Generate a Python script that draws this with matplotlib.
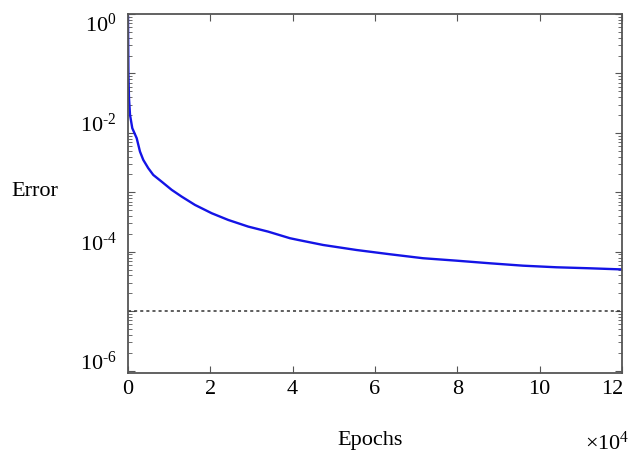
import matplotlib
matplotlib.use("Agg")
import matplotlib.pyplot as plt
import numpy as np
from matplotlib.ticker import LogLocator, FuncFormatter, NullFormatter, FixedLocator
from matplotlib.transforms import ScaledTranslation

plt.rcParams['font.family'] = ['Liberation Serif', 'DejaVu Serif']
plt.rcParams['mathtext.fontset'] = 'custom'
plt.rcParams['mathtext.rm'] = 'Liberation Serif'

# Data (epochs in units of 1e4)
epochs = [0.0, 0.01, 0.024, 0.049, 0.104, 0.211, 0.291, 0.371, 0.492, 0.614, 0.818,
          1.061, 1.303, 1.626, 2.032, 2.434, 2.92, 3.405, 3.932, 4.133, 4.74, 5.551,
          6.359, 7.167, 7.978, 8.786, 9.595, 10.405, 11.214, 11.9, 12.0]
error = [0.9, 0.1, 3.84e-2, 2.01e-2, 1.20e-2, 8.14e-3, 4.85e-3, 3.51e-3, 2.55e-3,
         1.96e-3, 1.51e-3, 1.10e-3, 8.47e-4, 6.14e-4, 4.45e-4, 3.43e-4, 2.65e-4,
         2.18e-4, 1.69e-4, 1.58e-4, 1.30e-4, 1.07e-4, 9.08e-5, 7.78e-5, 7.08e-5,
         6.40e-5, 5.83e-5, 5.48e-5, 5.27e-5, 5.07e-5, 5.05e-5]
goal = 1e-5
xticks = [0, 2, 4, 6, 8, 10, 12]
ydecades = [0, -1, -2, -3, -4, -5, -6]

fig = plt.figure(figsize=(6.29, 4.54), dpi=100)
ax = fig.add_axes([128/629, 1-373/454, (622-128)/629, (373-14)/454])

ax.plot(epochs, error, color='#1414e6', lw=1.7)
ax.axhline(goal, color='#333333', ls=(0, (2, 2)), lw=1.1)

ax.set_yscale('log')
ax.set_xlim(0, 12)
ax.set_ylim(10**-6.04, 1.0)
ax.set_xticks(xticks)
ax.xaxis.set_major_formatter(FuncFormatter(lambda v, p: f"{int(v)}"))
ax.yaxis.set_major_locator(FixedLocator([10.0**e for e in ydecades]))
ax.yaxis.set_minor_locator(LogLocator(base=10, subs=np.arange(2, 10), numticks=20))
ax.yaxis.set_minor_formatter(NullFormatter())

def yfmt(v, p):
    e = int(round(np.log10(v)))
    if e % 2 == 0:
        if e < 0:
            return r'$\mathregular{10^{\text{-}%d}}$' % (-e)
        return r'$\mathregular{10^{%d}}$' % e
    return ''
ax.yaxis.set_major_formatter(FuncFormatter(yfmt))

for s in ax.spines.values():
    s.set_color('#555555')
    s.set_linewidth(1.3)
ax.tick_params(which='both', direction='in', top=True, right=True, colors='#555555',
               labelcolor='black', labelsize=16)
ax.tick_params(which='major', length=5)
ax.tick_params(which='minor', length=3)
ax.tick_params(axis='x', pad=5)
ax.tick_params(axis='y', pad=8)

fig.canvas.draw()
for lab in ax.get_yticklabels():
    txt = lab.get_text()
    if txt == '':
        continue
    if '{0}' in txt:
        dy = -9
    else:
        dy = 10
    lab.set_transform(lab.get_transform() + ScaledTranslation(0, dy/100, fig.dpi_scale_trans))
for lab in ax.get_xticklabels():
    if lab.get_text() == '12':
        lab.set_transform(lab.get_transform() + ScaledTranslation(-10/100, 0, fig.dpi_scale_trans))

fig.text(35/629, 1-192/454, 'Error', ha='center', va='center', fontsize=16)
fig.text(370/629, 1-440/454, 'Epochs', ha='center', va='center', fontsize=16)
fig.text(607/629, 1-443/454, r'$\mathregular{\times 10^{4}}$', ha='center', va='center', fontsize=16)

fig.savefig('out.png', dpi=100)
